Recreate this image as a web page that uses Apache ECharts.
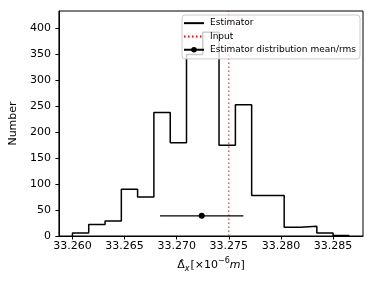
<!DOCTYPE html>
<html>
<head>
<meta charset="utf-8">
<script src="https://cdn.jsdelivr.net/npm/echarts@6/dist/echarts.min.js"></script>
<style>
html,body{margin:0;padding:0;background:#fff;}
#chart{width:374px;height:281px;}
</style>
</head>
<body>
<div id="chart"></div>
<script>
// Histogram bin edges (x, in 1e-6 m) and counts per bin
var binEdges = [33.26000, 33.26156, 33.26313, 33.26469, 33.26625, 33.26781, 33.26938, 33.27094, 33.27250,
                33.27406, 33.27563, 33.27719, 33.27875, 33.28031, 33.28188, 33.28344, 33.28500, 33.28656];
var binCounts = [6, 22, 29, 90, 75, 238, 180, 350, 393, 175, 253, 78, 78, 17, 19, 6, 1];
// Input value (vertical line)
var inputValue = 33.275;
// Estimator distribution mean / rms (error bar)
var meanValue = 33.2724;
var rmsValue = 0.0040;
var errorBarY = 39;
// Axis ticks
var xTicks = [33.260, 33.265, 33.270, 33.275, 33.280, 33.285];
var xMin = 33.2587, xMax = 33.28787;
var yMax = 434;

var histPts = [[binEdges[0], 0]];
for (var i = 0; i < binCounts.length; i++) {
  histPts.push([binEdges[i], binCounts[i]]);
  histPts.push([binEdges[i + 1], binCounts[i]]);
}
histPts.push([binEdges[binEdges.length - 1], 0]);

var FONT = 'DejaVu Sans';
var chart = echarts.init(document.getElementById('chart'), null, {renderer: 'canvas'});
chart.setOption({
  animation: false,
  backgroundColor: '#fff',
  grid: {left: 50, right: 11, top: 11, bottom: 45, show: true, borderColor: '#000', borderWidth: 1, backgroundColor: 'transparent'},
  legend: {
    orient: 'vertical', left: 182, top: 15,
    itemWidth: 20, itemHeight: 7, itemGap: 3,
    padding: [3, 4, 4, 1],
    backgroundColor: 'rgba(255,255,255,0.8)', borderColor: '#cccccc', borderWidth: 1, borderRadius: 3,
    selectedMode: false,
    textStyle: {fontFamily: FONT, fontSize: 9, color: '#000', lineHeight: 10.3, padding: [0, 0, 0, 1]},
    data: [
      {name: 'Estimator', itemStyle: {opacity: 0, borderWidth: 0}},
      {name: 'Input', itemStyle: {opacity: 0, borderWidth: 0}},
      {name: 'Estimator distribution mean/rms'}
    ]
  },
  xAxis: {
    type: 'value', min: xMin, max: xMax,
    splitLine: {show: false},
    axisLine: {show: true, onZero: false, lineStyle: {color: '#000', width: 1}},
    axisTick: {show: true, inside: false, length: 3.5, lineStyle: {color: '#000'}, customValues: xTicks},
    axisLabel: {show: true, margin: 5, fontFamily: FONT, fontSize: 11, color: '#000', customValues: xTicks,
      formatter: function (v) { return v.toFixed(3); }},
    name: '{d|\u0394\u0302}{sub|x}{n|[\u00d710}{sup|\u22126}{it|m}{n|]}',
    nameLocation: 'middle', nameGap: 20,
    nameTextStyle: {
      fontFamily: FONT, fontSize: 11, color: '#000',
      rich: {
        d: {fontFamily: FONT, fontSize: 11, color: '#000', lineHeight: 16, verticalAlign: 'middle'},
        sub: {fontFamily: FONT, fontSize: 8, fontStyle: 'italic', color: '#000', lineHeight: 16, verticalAlign: 'bottom', padding: [0, 1, 0, 0]},
        n: {fontFamily: FONT, fontSize: 11, color: '#000', lineHeight: 16, verticalAlign: 'middle'},
        sup: {fontFamily: FONT, fontSize: 8, color: '#000', lineHeight: 16, verticalAlign: 'top'},
        it: {fontFamily: FONT, fontSize: 11, fontStyle: 'italic', color: '#000', lineHeight: 16, verticalAlign: 'middle'}
      }
    }
  },
  yAxis: {
    type: 'value', min: 0, max: yMax, interval: 50,
    splitLine: {show: false},
    axisLine: {show: true, lineStyle: {color: '#000', width: 1}},
    axisTick: {show: true, inside: false, length: 3.5, lineStyle: {color: '#000'}},
    axisLabel: {show: true, margin: 8, fontFamily: FONT, fontSize: 11, color: '#000', showMaxLabel: false},
    name: 'Number', nameLocation: 'middle', nameGap: 31,
    nameTextStyle: {fontFamily: FONT, fontSize: 11, color: '#000'}
  },
  series: [
    {
      name: 'Estimator', type: 'line', data: histPts, symbol: 'none',
      lineStyle: {color: '#000', width: 1.5}, itemStyle: {color: '#000'}, z: 2
    },
    {
      name: 'Input', type: 'line', data: [[inputValue, 0], [inputValue, yMax]], symbol: 'none',
      lineStyle: {color: '#ff0000', width: 1, type: [1.5, 2.5]}, itemStyle: {color: '#ff0000'}, z: 3
    },
    {
      name: 'Estimator distribution mean/rms', type: 'line',
      data: [
        {value: [meanValue - rmsValue, errorBarY], symbol: 'none'},
        {value: [meanValue, errorBarY]},
        {value: [meanValue + rmsValue, errorBarY], symbol: 'none'}
      ],
      symbol: 'circle', symbolSize: 6, showSymbol: true,
      lineStyle: {color: '#000', width: 1.3}, itemStyle: {color: '#000'}, z: 3
    }
  ]
});
</script>
</body>
</html>
